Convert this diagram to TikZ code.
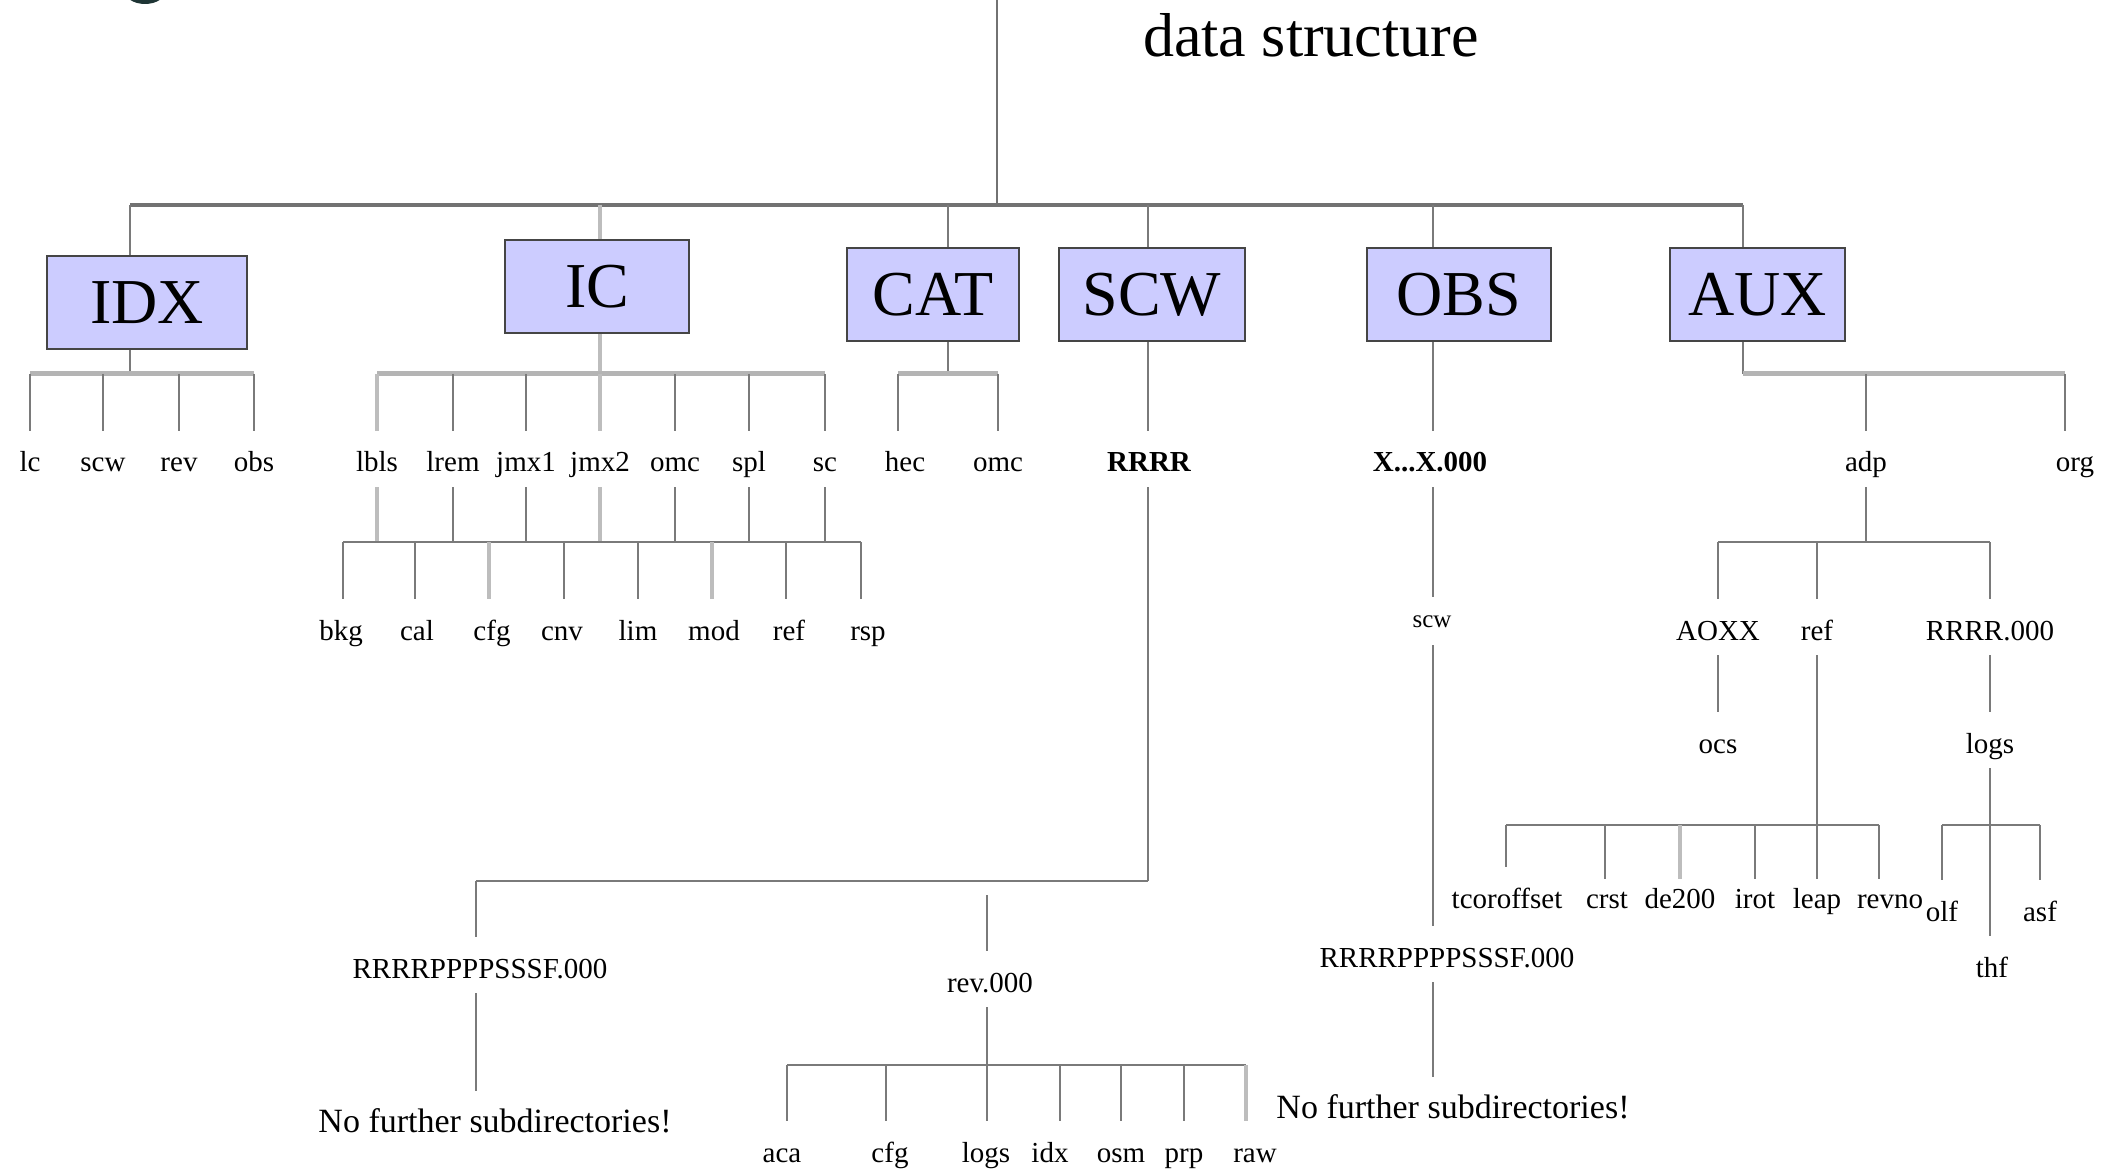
\documentclass[tikz,border=0pt]{standalone}
\usepackage{fontspec}
\setmainfont{Liberation Serif}
\definecolor{lineg}{HTML}{7A7A7A}
\definecolor{lightg}{HTML}{BDBDBD}
\definecolor{topg}{HTML}{727272}
\definecolor{busg}{HTML}{B4B4B4}
\definecolor{boxb}{HTML}{454545}
\definecolor{boxf}{HTML}{CCCCFF}
\definecolor{logoc}{HTML}{1E3535}
\begin{document}
\begin{tikzpicture}[x=0.5pt,y=-0.5pt,
 ln/.style={draw=lineg, line width=1pt},
 lnl/.style={draw=lightg, line width=1.6pt},
 tbus/.style={draw=topg, line width=2pt},
 bus/.style={draw=busg, line width=2.5pt},
 dbus/.style={draw=lineg, line width=1.3pt},
 box/.style={draw=boxb, line width=0.8pt, fill=boxf, minimum height=46.5pt, inner sep=0pt, font=\fontsize{32}{32}\selectfont},
 lab/.style={anchor=base, inner sep=0pt, text height=20.5pt, text depth=7.5pt, font=\fontsize{14.5}{16}\selectfont},
 boldlab/.style={lab, font=\fontsize{14.5}{16}\selectfont\bfseries},
 big/.style={lab, font=\fontsize{17}{19}\selectfont},
 small/.style={anchor=base, inner sep=0pt, text height=15pt, text depth=9pt, font=\fontsize{12.5}{14}\selectfont},
]
\useasboundingbox (0,0) rectangle (2104,1171);
\fill[logoc] (145,-10) ellipse (21 and 14);

% title and root
\node[anchor=base, inner sep=0pt, font=\fontsize{31}{31}\selectfont] (title) at (1311,57) {data structure};
\coordinate (top) at (997,0);
\coordinate (rootj) at (997,205);
\coordinate (jIDX) at (130,205);
\coordinate (jIC) at (600,205);
\coordinate (jCAT) at (948,205);
\coordinate (jSCW) at (1148,205);
\coordinate (jOBS) at (1433,205);
\coordinate (jAUX) at (1743,205);
\draw[draw=topg, line width=1.1pt] (top) -- (rootj);
\draw[tbus] (jIDX) -- (jAUX);

% boxes
\node[box, minimum width=100pt] (IDX) at (147,302.5) {IDX};
\node[box, minimum width=92pt] (IC) at (597,286.5) {IC};
\node[box, minimum width=86pt] (CAT) at (933,294.5) {CAT};
\node[box, minimum width=93pt] (SCW) at (1152,294.5) {SCW};
\node[box, minimum width=92pt] (OBS) at (1459,294.5) {OBS};
\node[box, minimum width=87.5pt] (AUX) at (1757.5,294.5) {AUX};

\draw[ln] (jIDX) -- (jIDX |- IDX.north);
\draw[lnl] (jIC) -- (jIC |- IC.north);
\draw[ln] (jCAT) -- (jCAT |- CAT.north);
\draw[ln] (jSCW) -- (jSCW |- SCW.north);
\draw[ln] (jOBS) -- (jOBS |- OBS.north);
\draw[ln] (jAUX) -- (jAUX |- AUX.north);

% IDX subtree
\coordinate (bIDX) at (130,374);
\node[lab] (lc) at (30,472) {lc};
\node[lab] (scwA) at (103,472) {scw};
\node[lab] (revA) at (179,472) {rev};
\node[lab] (obsA) at (254,472) {obs};
\draw[ln] (IDX.south -| bIDX) -- (bIDX);
\draw[bus] (lc.north |- bIDX) -- (obsA.north |- bIDX);
\foreach \n in {lc,scwA,revA,obsA} \draw[ln] (\n.north |- bIDX) -- (\n.north);

% IC subtree
\coordinate (bIC) at (600,374);
\coordinate (gIC) at (600,542);
\node[lab] (lbls) at (377,472) {lbls};
\node[lab] (lrem) at (453,472) {lrem};
\node[lab] (jmx1) at (526,472) {jmx1};
\node[lab] (jmx2) at (600,472) {jmx2};
\node[lab] (omcA) at (675,472) {omc};
\node[lab] (spl) at (749,472) {spl};
\node[lab] (sc) at (825,472) {sc};
\draw[lnl] (IC.south -| bIC) -- (bIC);
\draw[bus] (lbls.north |- bIC) -- (sc.north |- bIC);
\foreach \n in {lrem,jmx1,omcA,spl,sc} {
  \draw[ln] (\n.north |- bIC) -- (\n.north);
  \draw[ln] (\n.south) -- (\n.south |- gIC);
}
\foreach \n in {lbls,jmx2} {
  \draw[lnl] (\n.north |- bIC) -- (\n.north);
  \draw[lnl] (\n.south) -- (\n.south |- gIC);
}
\node[lab] (bkg) at (341,640) {bkg};
\node[lab] (cal) at (417,640) {cal};
\node[lab] (cfgA) at (492,640) {cfg};
\node[lab] (cnv) at (562,640) {cnv};
\node[lab] (lim) at (638,640) {lim};
\node[lab] (mod) at (714,640) {mod};
\node[lab] (refA) at (789,640) {ref};
\node[lab] (rsp) at (868,640) {rsp};
\coordinate (xbkg) at (343,542);
\coordinate (xrsp) at (861,542);
\draw[dbus] (xbkg) -- (xrsp);
\foreach \x/\n in {343/bkg,415/cal,564/cnv,638/lim,786/refA,861/rsp}
  \draw[ln] (\x,542) -- (\x,542 |- \n.north);
\foreach \x/\n in {489/cfgA,712/mod}
  \draw[lnl] (\x,542) -- (\x,542 |- \n.north);

% CAT subtree
\coordinate (bCAT) at (948,374);
\coordinate (xhec) at (898,374);
\coordinate (xomc) at (998,374);
\node[lab] (hec) at (905,472) {hec};
\node[lab] (omcB) at (998,472) {omc};
\draw[ln] (CAT.south -| bCAT) -- (bCAT);
\draw[bus] (xhec) -- (xomc);
\draw[ln] (xhec) -- (xhec |- hec.north);
\draw[ln] (xomc) -- (xomc |- omcB.north);

% SCW subtree
\node[boldlab] (RRRR) at (1149,472) {RRRR};
\coordinate (scwc) at (1148,881);
\coordinate (scwl) at (476,881);
\draw[ln] (SCW.south -| scwc) -- (scwc |- RRRR.north);
\draw[ln] (scwc |- RRRR.south) -- (scwc);
\draw[dbus] (scwc) -- (scwl);
\node[lab] (P1) at (480,978) {RRRRPPPPSSSF.000};
\draw[ln] (scwl) -- (scwl |- P1.north);
\node[big] (nf1) at (495,1132) {No further subdirectories!};
\draw[ln] (scwl |- P1.south) -- (scwl |- nf1.north);
\coordinate (revtop) at (987,895);
\node[lab] (rev0) at (990,992) {rev.000};
\draw[ln] (revtop) -- (revtop |- rev0.north);
\coordinate (brev) at (987,1065);
\draw[ln] (revtop |- rev0.south) -- (brev);
\node[lab] (aca) at (782,1162) {aca};
\node[lab] (cfgB) at (890,1162) {cfg};
\node[lab] (logsA) at (986,1162) {logs};
\node[lab] (idx) at (1050,1162) {idx};
\node[lab] (osm) at (1121,1162) {osm};
\node[lab] (prp) at (1184,1162) {prp};
\node[lab] (raw) at (1255,1162) {raw};
\coordinate (xaca) at (787,1065);
\coordinate (xraw) at (1246,1065);
\draw[dbus] (xaca) -- (xraw);
\foreach \x/\n in {787/aca,886/cfgB,987/logsA,1060/idx,1121/osm,1184/prp}
  \draw[ln] (\x,1065) -- (\x,1065 |- \n.north);
\draw[lnl] (xraw) -- (xraw |- raw.north);

% OBS subtree
\node[boldlab] (XX) at (1430,472) {X...X.000};
\coordinate (xobs) at (1433,600);
\draw[ln] (OBS.south -| xobs) -- (xobs |- XX.north);
\node[small] (scwB) at (1432,627) {scw};
\draw[ln] (xobs |- XX.south) -- (xobs |- scwB.north);
\node[lab] (P2) at (1447,967) {RRRRPPPPSSSF.000};
\draw[ln] (xobs |- scwB.south) -- (xobs |- P2.north);
\node[big] (nf2) at (1453,1118) {No further subdirectories!};
\draw[ln] (xobs |- P2.south) -- (xobs |- nf2.north);

% AUX subtree
\coordinate (bAUX) at (1743,374);
\coordinate (jorg) at (2065,374);
\node[lab] (adp) at (1866,472) {adp};
\node[lab] (org) at (2075,472) {org};
\draw[ln] (AUX.south -| bAUX) -- (bAUX);
\draw[bus] (bAUX) -- (jorg);
\draw[ln] (adp.north |- bAUX) -- (adp.north);
\draw[ln] (jorg) -- (jorg |- org.north);

\coordinate (badp) at (1866,542);
\draw[ln] (adp.south) -- (badp);
\node[lab] (AOXX) at (1718,640) {AOXX};
\node[lab] (refB) at (1817,640) {ref};
\node[lab] (R000) at (1990,640) {RRRR.000};
\draw[dbus] (AOXX.north |- badp) -- (R000.north |- badp);
\foreach \n in {AOXX,refB,R000} \draw[ln] (\n.north |- badp) -- (\n.north);
\node[lab] (ocs) at (1718,753) {ocs};
\draw[ln] (AOXX.south) -- (ocs.north);
\node[lab] (logsB) at (1990,753) {logs};
\draw[ln] (R000.south) -- (logsB.north);

% ref children
\coordinate (bref) at (1817,825);
\node[lab] (tco) at (1507,908) {tcoroffset};
\node[lab] (crst) at (1607,908) {crst};
\node[lab] (de) at (1680,908) {de200};
\node[lab] (irot) at (1755,908) {irot};
\node[lab] (leap) at (1817,908) {leap};
\node[lab] (revno) at (1890,908) {revno};
\coordinate (xtco) at (1506,825);
\coordinate (xrevno) at (1879,825);
\draw[dbus] (xtco) -- (xrevno);
\draw[ln] (xtco) -- (xtco |- tco.north);
\foreach \x/\n in {1605/crst,1755/irot}
  \draw[ln] (\x,825) -- ([yshift=-6pt]\x,825 |- \n.north);
\draw[ln] (xrevno) -- ([yshift=-6pt]xrevno |- revno.north);
\draw[lnl] (1680,825) -- ([yshift=-6pt]de.north);
\draw[ln] (refB.south) -- ([yshift=-6pt]leap.north);

% logs children
\coordinate (blogs) at (1990,825);
\node[lab] (olf) at (1942,921) {olf};
\node[lab] (asf) at (2040,921) {asf};
\node[lab] (thf) at (1992,977) {thf};
\draw[ln] (logsB.south) -- (logsB.south |- thf.north);
\draw[dbus] (olf.north |- blogs) -- (asf.north |- blogs);
\foreach \n in {olf,asf} \draw[ln] (\n.north |- blogs) -- (\n.north);
\end{tikzpicture}
\end{document}
